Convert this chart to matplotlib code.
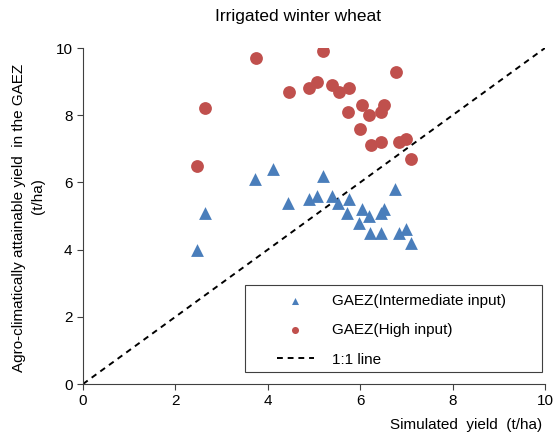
import matplotlib
matplotlib.use("Agg")
import matplotlib.pyplot as plt
from matplotlib.patches import Rectangle

plt.rcParams['font.family'] = ['Liberation Sans', 'DejaVu Sans']

# GAEZ intermediate input (simulated yield, attainable yield)
inter_x = [2.47, 2.64, 3.73, 4.11, 4.44, 4.90, 5.06, 5.19, 5.39, 5.53, 5.75, 5.71,
           6.03, 5.98, 6.19, 6.21, 6.44, 6.44, 6.52, 6.75, 6.83, 6.99, 7.10]
inter_y = [4.0, 5.1, 6.1, 6.4, 5.4, 5.5, 5.6, 6.2, 5.6, 5.4, 5.5, 5.1,
           5.2, 4.8, 5.0, 4.5, 4.5, 5.1, 5.2, 5.8, 4.5, 4.6, 4.2]

# GAEZ high input
high_x = [2.47, 2.65, 3.74, 4.45, 4.90, 5.06, 5.20, 5.40, 5.55, 5.76, 5.73,
          6.04, 5.99, 6.20, 6.23, 6.46, 6.46, 6.52, 6.77, 6.83, 6.99, 7.10]
high_y = [6.5, 8.2, 9.7, 8.7, 8.8, 9.0, 9.9, 8.9, 8.7, 8.8, 8.1,
          8.3, 7.6, 8.0, 7.1, 7.2, 8.1, 8.3, 9.3, 7.2, 7.3, 6.7]

W, H = 555, 441
fig = plt.figure(figsize=(W / 100, H / 100), dpi=100)
ax = fig.add_axes([83 / W, (H - 384) / H, 462 / W, 336 / H])

ax.scatter(inter_x, inter_y, marker='^', s=85, color='#4A7EBB',
           linewidths=0, label='GAEZ(Intermediate input)', zorder=3)
ax.scatter(high_x, high_y, marker='o', s=85, color='#C0504D',
           linewidths=0, label='GAEZ(High input)', zorder=3)
ax.plot([0, 10], [0, 10], linestyle=(0, (3, 2.5)), color='black',
        linewidth=1.4, label='1:1 line', zorder=2)

ax.set_xlim(0, 10)
ax.set_ylim(0, 10)
ax.set_xticks([0, 2, 4, 6, 8, 10])
ax.set_yticks([0, 2, 4, 6, 8, 10])
ax.tick_params(labelsize=11, direction='out', length=4, width=0.8, colors='#404040',
               labelcolor='black')
for s in ['top', 'right']:
    ax.spines[s].set_visible(False)
for s in ['left', 'bottom']:
    ax.spines[s].set_color('#404040')

# titles and axis labels placed in figure pixels
fig.text(298 / W, 1 - 17 / H, 'Irrigated winter wheat', fontsize=12.5,
         ha='center', va='center')
fig.text(542 / W, 1 - 425 / H, 'Simulated  yield  (t/ha)', fontsize=11,
         ha='right', va='center')
fig.text(19 / W, 1 - 218 / H, 'Agro-climatically attainable yield  in the GAEZ',
         fontsize=11, rotation=90, ha='center', va='center')
fig.text(38 / W, 1 - 196 / H, '(t/ha)', fontsize=11, rotation=90,
         ha='center', va='center')

# legend box drawn separately to get the wide left padding
x0, x1, y0, y1 = 245, 542, 285, 372
ax.add_patch(Rectangle(((x0 - 83) / 462, (384 - y1) / 336),
                       (x1 - x0) / 462, (y1 - y0) / 336,
                       transform=ax.transAxes, fill=True, facecolor='white',
                       edgecolor='#404040', linewidth=0.8, zorder=4))
leg = ax.legend(loc='upper left', bbox_to_anchor=((277 - 83) / 462, (384 - 294) / 336),
                fontsize=11, markerscale=0.55, handlelength=2.4, borderpad=0,
                labelspacing=1.0, frameon=False, handletextpad=1.2,
                borderaxespad=0)
leg.set_zorder(5)

fig.savefig('out.png', dpi=100)
